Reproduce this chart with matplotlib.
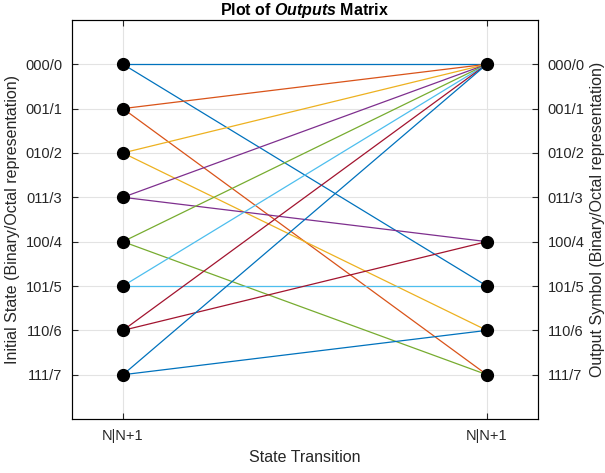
import numpy as np
import matplotlib.pyplot as plt

plt.rcParams['font.family'] = ['Liberation Sans', 'DejaVu Sans']
plt.rcParams['mathtext.fontset'] = 'custom'
plt.rcParams['mathtext.it'] = 'Liberation Sans:italic:bold'

# state labels (binary/octal) and the output symbol reached from each state
labels = ['000/0', '001/1', '010/2', '011/3', '100/4', '101/5', '110/6', '111/7']
states = [0, 1, 2, 3, 4, 5, 6, 7]
out_a = [0, 0, 0, 0, 0, 0, 0, 0]
out_b = [5, 7, 6, 4, 7, 5, 4, 6]
xpos = [1, 2]
xticklabels = ['N|N+1', 'N|N+1']

# MATLAB default line colour order
colors = ['#0072BD', '#D95319', '#EDB120', '#7E2F8E',
          '#77AC30', '#4DBEEE', '#A2142F']

fig = plt.figure(figsize=(6.05, 4.73), dpi=100)
ax = fig.add_axes([0.119, 0.114, 0.770, 0.844])

for i, s in enumerate(states):
    c = colors[i % len(colors)]
    ax.plot(xpos, [s, out_a[i]], color=c, lw=0.9, zorder=2)
    ax.plot(xpos, [s, out_b[i]], color=c, lw=0.9, zorder=2)

ax.plot([xpos[0]] * len(states), states, 'o', color='black', ms=8.5, zorder=3)
right_nodes = sorted(set(out_a) | set(out_b))
ax.plot([xpos[1]] * len(right_nodes), right_nodes, 'o', color='black', ms=8.5, zorder=3)

ax.set_xlim(0.86, 2.14)
ax.set_ylim(8, -1)
ax.set_xticks(xpos)
ax.set_xticklabels(xticklabels)
ax.set_yticks(states)
ax.set_yticklabels(labels)
ax.grid(True, color='#e3e3e3', lw=0.8, zorder=0)
ax.set_axisbelow(True)

ax.tick_params(direction='in', top=True, length=4, width=0.8,
               labelsize=10.5, colors='#262626', pad=7)
for sp in ax.spines.values():
    sp.set_color('#262626')
    sp.set_linewidth(0.8)

ax2 = ax.twinx()
ax2.set_ylim(8, -1)
ax2.set_yticks(states)
ax2.set_yticklabels(labels)
ax2.tick_params(direction='in', length=4, width=0.8, labelsize=10.5,
                colors='#262626', pad=7)

ax.set_ylabel('Initial State (Binary/Octal representation)', fontsize=11.5,
              color='#262626', labelpad=4)
ax2.set_ylabel('Output Symbol (Binary/Octal representation)', fontsize=11.5,
               color='#262626', labelpad=4)
ax.set_xlabel('State Transition', fontsize=11.5, color='#262626', labelpad=5)
ax.set_title(r'Plot of $\it{Outputs}$ Matrix', fontsize=11.5,
             fontweight='bold', pad=3)

fig.savefig('out.png', dpi=100)
